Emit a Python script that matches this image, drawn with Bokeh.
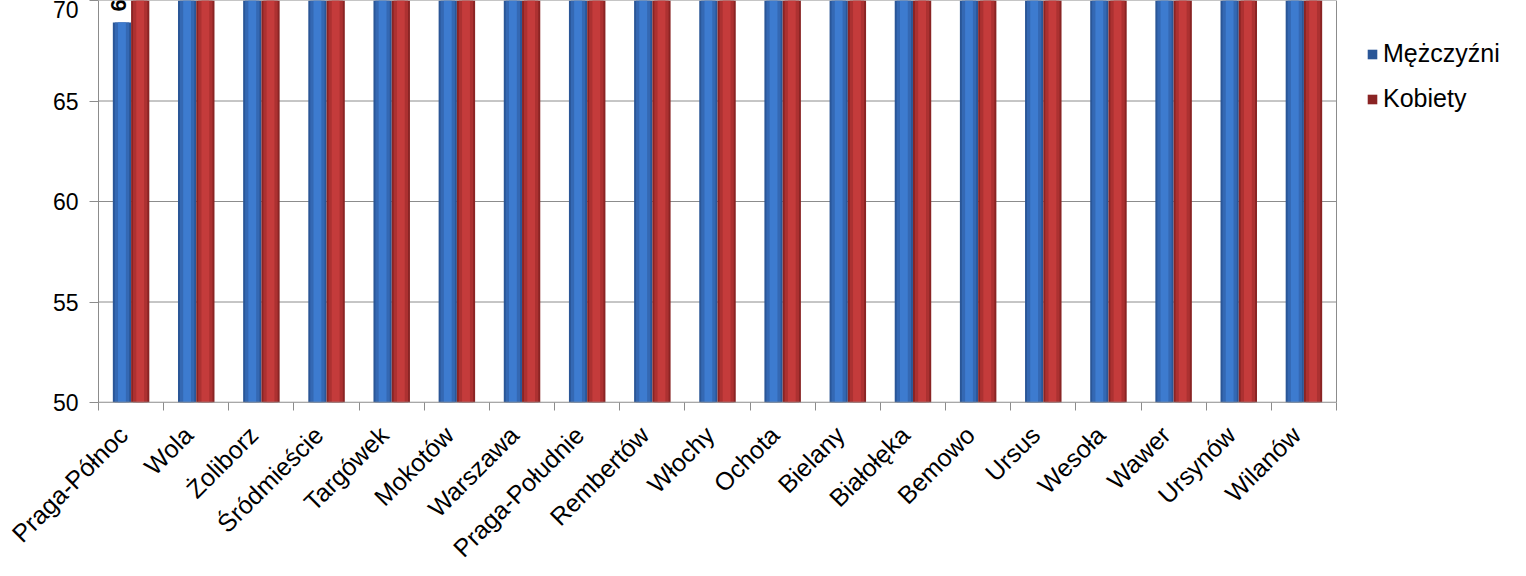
import math
from bokeh.plotting import figure
from bokeh.models import (ColumnDataSource, FixedTicker, Range1d, Legend, LegendItem)
from bokeh.core.properties import value
from bokeh.embed import file_html
from bokeh.resources import INLINE

districts = ["Praga-Północ", "Wola", "Żoliborz", "Śródmieście", "Targówek", "Mokotów",
             "Warszawa", "Praga-Południe", "Rembertów", "Włochy", "Ochota", "Bielany",
             "Białołęka", "Bemowo", "Ursus", "Wesoła", "Wawer", "Ursynów", "Wilanów"]
men = [68.9, 72.3, 72.6, 72.8, 73.0, 73.3, 73.5, 73.6, 73.8, 74.0, 74.1, 74.4,
       74.7, 75.0, 75.1, 75.6, 75.8, 76.3, 77.0]
women = [77.6, 80.0, 80.5, 80.1, 80.7, 80.9, 80.8, 80.6, 80.3, 81.0, 81.2, 81.1,
         81.5, 81.9, 80.9, 81.8, 81.6, 82.3, 82.8]
men_labels = ["68,9"] + [""] * (len(districts) - 1)
y_ticks = [50, 55, 60, 65, 70]

n = len(districts)
centers = [i + 0.5 for i in range(n)]
label_pos = [c - 0.12 for c in centers]
src = ColumnDataSource(dict(
    xm=[c - 0.14 for c in centers],
    xw=[c + 0.14 for c in centers],
    men=men, women=women, lab=men_labels,
))

W, H = 1526, 576
LEFT = 98
PLOT_W = 1238  # width of the category area in px
x_end = n * (W - LEFT) / PLOT_W  # frame extends to the right edge, legend lives inside it

p = figure(width=W, height=H, output_backend="svg", toolbar_location=None,
           x_range=Range1d(0, x_end), y_range=Range1d(50, 70),
           min_border_left=LEFT, min_border_right=0, min_border_top=0, min_border_bottom=174)
p.outline_line_color = None
p.background_fill_color = "white"
p.xgrid.grid_line_color = None
p.ygrid.grid_line_color = None

# gridlines (only across the category area) and right frame line
p.segment(x0=[0] * len(y_ticks), y0=y_ticks, x1=[n] * len(y_ticks), y1=y_ticks,
          line_color="#8c8c8c", line_width=1)
p.segment(x0=[n], y0=[50], x1=[n], y1=[70], line_color="#8c8c8c", line_width=1)

# bars - men (blue, cylinder-like shading)
bm = p.vbar(x="xm", top="men", bottom=50, width=0.28, source=src,
            fill_color="#2a5697", line_color=None)
p.vbar(x="xm", top="men", bottom=50, width=0.22, source=src,
       fill_color="#3468b3", line_color=None)
p.vbar(x="xm", top="men", bottom=50, width=0.12, source=src,
       fill_color="#3d7bcf", line_color=None)
# bars - women (red)
bw = p.vbar(x="xw", top="women", bottom=50, width=0.28, source=src,
            fill_color="#8a2424", line_color=None)
p.vbar(x="xw", top="women", bottom=50, width=0.22, source=src,
       fill_color="#ac3131", line_color=None)
p.vbar(x="xw", top="women", bottom=50, width=0.12, source=src,
       fill_color="#c43b3b", line_color=None)

# x axis baseline across the category area
p.segment(x0=[0], y0=[50], x1=[n], y1=[50], line_color="#8c8c8c", line_width=1.5)

# data label (clipped by frame as in reference)
p.text(x="xm", y="men", text="lab", source=src, angle=math.pi / 2,
       text_align="left", text_baseline="middle", y_offset=-11, x_offset=-3,
       text_font=value("Liberation Sans"), text_font_size="22px",
       text_font_style="bold", text_color="black")

# axes
p.yaxis.ticker = FixedTicker(ticks=y_ticks)
p.yaxis.major_label_text_font = "Liberation Sans"
p.yaxis.major_label_text_font_size = "23px"
p.yaxis.major_label_text_color = "black"
p.yaxis.axis_line_color = "#8c8c8c"
p.yaxis.major_tick_line_color = "#8c8c8c"
p.yaxis.major_tick_out = 9
p.yaxis.major_tick_in = 0
p.yaxis.minor_tick_line_color = None
p.yaxis.major_label_standoff = 11

p.xaxis.ticker = FixedTicker(ticks=label_pos, minor_ticks=list(range(n + 1)))
p.xaxis.major_label_overrides = {c: d for c, d in zip(label_pos, districts)}
p.xaxis.major_label_orientation = math.pi / 4
p.xaxis.major_label_text_font = "Liberation Sans"
p.xaxis.major_label_text_font_size = "25px"
p.xaxis.major_label_text_color = "black"
p.xaxis.axis_line_color = None
p.xaxis.major_tick_line_color = None
p.xaxis.minor_tick_line_color = "#8c8c8c"
p.xaxis.minor_tick_out = 8
p.xaxis.minor_tick_in = 0
p.xaxis.major_label_standoff = 20

legend = Legend(items=[LegendItem(label="Mężczyźni", renderers=[bm]),
                       LegendItem(label="Kobiety", renderers=[bw])],
                location=(1268, 289))
legend.border_line_color = None
legend.background_fill_alpha = 0
legend.label_text_font = "Liberation Sans"
legend.label_text_font_size = "25px"
legend.label_text_color = "black"
legend.glyph_width = 12
legend.glyph_height = 12
legend.label_height = 25
legend.spacing = 16
legend.padding = 10
legend.margin = 0
legend.label_standoff = 5
p.add_layout(legend, "center")

open("out.html", "w").write(file_html(p, INLINE))
